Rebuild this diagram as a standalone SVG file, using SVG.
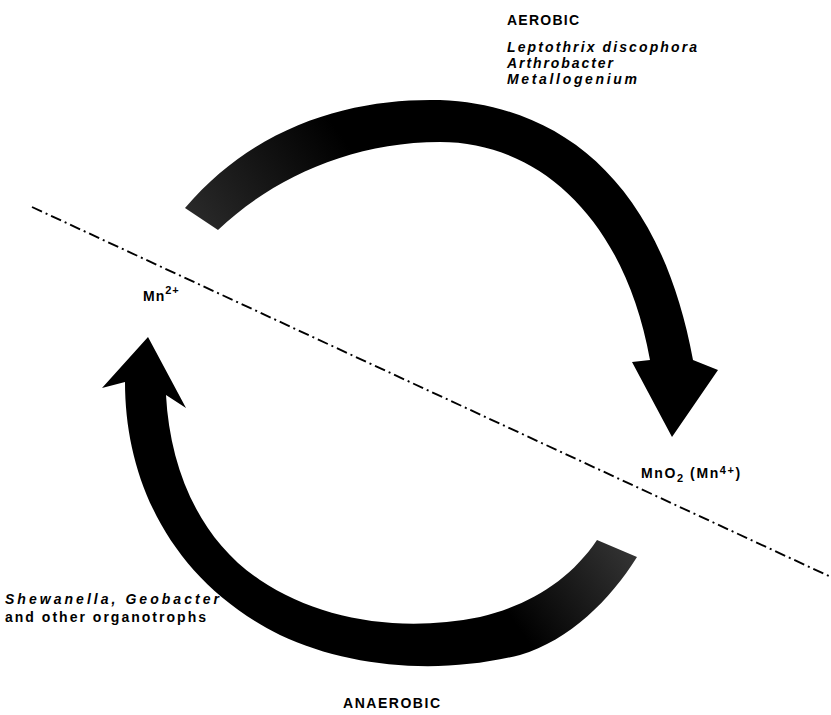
<svg xmlns="http://www.w3.org/2000/svg" width="831" height="715" viewBox="0 0 831 715">
<defs>
<style>
.t{font-family:"Liberation Sans",Arial,sans-serif;font-size:14px;font-weight:bold;fill:#000}
.i{font-style:italic}
.boundary{fill:none;stroke:#000;stroke-width:1.9;stroke-dasharray:11 4 2 4}
</style>
<linearGradient id="gTop" gradientUnits="userSpaceOnUse" x1="190" y1="220" x2="330" y2="120">
<stop offset="0" stop-color="#2a2a2a"/><stop offset="1" stop-color="#000"/>
</linearGradient>
<linearGradient id="gBot" gradientUnits="userSpaceOnUse" x1="630" y1="550" x2="520" y2="630">
<stop offset="0" stop-color="#333"/><stop offset="1" stop-color="#000"/>
</linearGradient>
</defs>
<rect width="831" height="715" fill="#fff"/>
<g id="connectors">
<path id="boundary-line" class="boundary" d="M32,207 L831,577"/>
<path id="aerobic-arrow" fill="url(#gTop)" d="M185,208 C260,120 360,98 440,100 C560,105 660,180 693,360 L718,370 L672,437 L632,362 L650,360 C625,220 540,142 440,142 C350,142 270,180 218,230 Z"/>
<path id="anaerobic-arrow" fill="url(#gBot)" d="M148,337 L186,408 L166,395 C170,470 200,540 260,580 C320,620 400,633 480,617 C530,605 570,580 597,540 L637,557 C610,600 570,640 520,655 C440,675 350,668 280,635 C170,580 125,480 125,382 L102,388 Z"/>
</g>
<g id="aerobic-label">
<text class="t" x="507" y="25" textLength="72" lengthAdjust="spacing">AEROBIC</text>
<text class="t i" x="507" y="52" textLength="190" lengthAdjust="spacing">Leptothrix discophora</text>
<text class="t i" x="507" y="68" textLength="106" lengthAdjust="spacing">Arthrobacter</text>
<text class="t i" x="507" y="84" textLength="130" lengthAdjust="spacing">Metallogenium</text>
</g>
<g id="mn2">
<text class="t" x="143" y="301" letter-spacing="1">Mn<tspan dy="-7" font-size="11">2+</tspan></text>
</g>
<g id="mno2">
<text class="t" x="641" y="478" letter-spacing="1.6">MnO<tspan dy="4" font-size="11">2</tspan><tspan dy="-4"> (Mn</tspan><tspan dy="-4" font-size="11">4+</tspan><tspan dy="4">)</tspan></text>
</g>
<g id="anaerobic-label">
<text class="t i" x="5" y="604" textLength="214" lengthAdjust="spacing">Shewanella, Geobacter</text>
<text class="t" x="5" y="622" textLength="201" lengthAdjust="spacing">and other organotrophs</text>
<text class="t" x="343" y="708" textLength="97" lengthAdjust="spacing">ANAEROBIC</text>
</g>
</svg>
